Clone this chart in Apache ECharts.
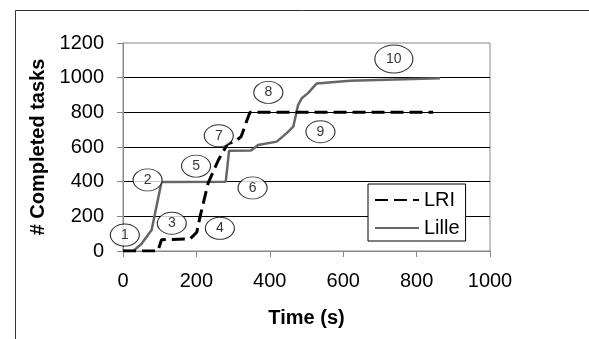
<!DOCTYPE html>
<html>
<head>
<meta charset="utf-8">
<script src="https://cdn.jsdelivr.net/npm/echarts@6/dist/echarts.min.js"></script>
<style>
html,body{margin:0;padding:0;background:#fff;}
#c{width:589px;height:339px;}
</style>
</head>
<body>
<div id="c"></div>
<script>
// ---- data ----
const lriTime   = [0, 95, 105, 183, 201, 210, 232, 260, 285, 305, 322, 337, 346, 845];
const lriTasks  = [0, 0, 65, 70, 108, 198, 392, 525, 618, 632, 660, 750, 800, 800];
const lilleTime  = [0, 28, 50, 78, 105, 110, 280, 289, 349, 368, 419, 446, 464, 477, 487, 504, 528, 619, 864];
const lilleTasks = [0, 0, 40, 121, 398, 400, 400, 578, 580, 611, 631, 680, 717, 842, 881, 911, 967, 982, 996];
const noteLabels = ['1','2','3','4','5','6','7','8','9','10'];
const noteTime   = [5, 67, 133, 264, 199, 353, 261, 396, 538, 738];
const noteTasks  = [92, 410, 160, 131, 490, 364, 665, 915, 688, 1108];
const xTicks = [0, 200, 400, 600, 800, 1000];
const yTicks = [0, 200, 400, 600, 800, 1000, 1200];

const FONT = "'Liberation Sans', Arial, Helvetica, sans-serif";
const zip = (a, b) => a.map((v, i) => [v, b[i]]);
const ellipse = 'path://M0,50 A50,50 0 1,1 100,50 A50,50 0 1,1 0,50 Z';

const chart = echarts.init(document.getElementById('c'), null, {renderer: 'canvas'});
chart.setOption({
  animation: false,
  backgroundColor: '#fff',
  textStyle: {fontFamily: FONT},
  graphic: [{
    type: 'rect', left: 13, top: 8, z: -1,
    shape: {width: 574, height: 400},
    style: {fill: 'none', stroke: '#333', lineWidth: 1}
  }],
  grid: {
    left: 123, right: 99, top: 43, bottom: 88,
    show: true, borderColor: '#888', borderWidth: 1, backgroundColor: 'transparent'
  },
  xAxis: {
    type: 'value', min: xTicks[0], max: xTicks[xTicks.length - 1], interval: 200,
    name: 'Time (s)', nameLocation: 'middle', nameGap: 57,
    nameTextStyle: {fontFamily: FONT, fontSize: 20, fontWeight: 'bold', color: '#000'},
    axisLine: {show: true, lineStyle: {color: '#888', width: 1}},
    axisTick: {show: true, length: 6, lineStyle: {color: '#888'}},
    axisLabel: {fontFamily: FONT, fontSize: 20, color: '#000', margin: 20, formatter: v => String(v)},
    splitLine: {show: false}
  },
  yAxis: {
    type: 'value', min: yTicks[0], max: yTicks[yTicks.length - 1], interval: 200,
    name: '# Completed tasks', nameLocation: 'middle', nameGap: 71,
    nameTextStyle: {fontFamily: FONT, fontSize: 20, fontWeight: 'bold', color: '#000'},
    axisLine: {show: true, lineStyle: {color: '#888', width: 1}},
    axisTick: {show: true, length: 6, lineStyle: {color: '#888'}},
    axisLabel: {fontFamily: FONT, fontSize: 20, color: '#000', margin: 19, formatter: v => String(v)},
    splitLine: {show: true, showMinLine: false, showMaxLine: false, lineStyle: {color: '#000', width: 1}}
  },
  legend: {
    data: [
      {name: 'LRI', itemStyle: {opacity: 0}},
      {name: 'Lille', itemStyle: {opacity: 0}}
    ],
    orient: 'vertical', left: 368, top: 184,
    backgroundColor: '#fff', borderColor: '#000', borderWidth: 1,
    padding: [6, 6, 3, 6], itemGap: 8, itemWidth: 44, itemHeight: 14, itemTextGap: 5,
    textStyle: {fontFamily: FONT, fontSize: 20, color: '#000'}
  },
  series: [
    {
      name: 'LRI', type: 'line', data: zip(lriTime, lriTasks), symbol: 'none',
      lineStyle: {color: '#000', width: 3, type: [13, 6]}, itemStyle: {color: '#000'}, z: 3
    },
    {
      name: 'Lille', type: 'line', data: zip(lilleTime, lilleTasks), symbol: 'none',
      lineStyle: {color: '#666', width: 2.5}, itemStyle: {color: '#666'}, z: 2
    },
    {
      name: 'notes', type: 'scatter', z: 5,
      data: noteLabels.map((t, i) => ({
        value: [noteTime[i], noteTasks[i]],
        symbolSize: t === '10' ? [38, 28] : [29, 22],
        label: {formatter: t}
      })),
      symbol: ellipse,
      itemStyle: {color: '#fff', borderColor: '#000', borderWidth: 1},
      label: {show: true, position: 'inside', fontFamily: FONT, fontSize: 14, color: '#000'},
      silent: true
    }
  ]
});
</script>
</body>
</html>
